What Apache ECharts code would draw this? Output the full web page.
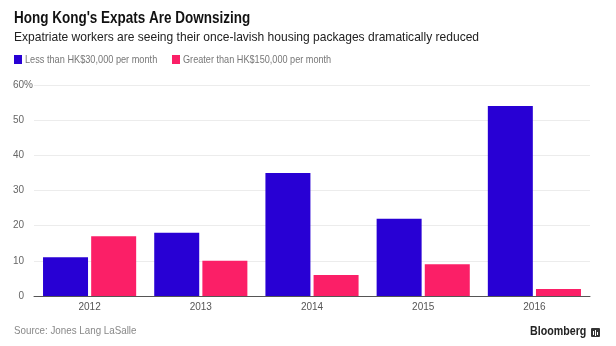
<!DOCTYPE html>
<html><head><meta charset="utf-8">
<script src="https://cdn.jsdelivr.net/npm/echarts@6/dist/echarts.min.js"></script>
<style>html,body{margin:0;padding:0;background:#fff}#c{width:616px;height:346px}</style>
</head><body><div id="c"></div>
<script>
const categories = ['2012', '2013', '2014', '2015', '2016'];
const lessThan30k = [11, 18, 35, 22, 54];
const greaterThan150k = [17, 10, 6, 9, 2];
const seriesNames = ['Less than HK$30,000 per month', 'Greater than HK$150,000 per month'];
const seriesColors = ['#2800d4', '#fb1f67'];

const FF = '"Liberation Sans", Arial, sans-serif';
function txt(text, x, y, font, fill, scaleX) {
  return { type: 'text', x: x, y: y, scaleX: scaleX, silent: true,
    style: { text: text, font: font, fill: fill, verticalAlign: 'middle', align: 'left' } };
}
const chart = echarts.init(document.getElementById('c'));
chart.setOption({
  animation: false,
  textStyle: { fontFamily: FF },
  legend: { show: false, data: seriesNames },
  graphic: [
    txt("Hong Kong's Expats Are Downsizing", 14, 19, 'bold 16px ' + FF, '#111', 0.843),
    txt('Expatriate workers are seeing their once-lavish housing packages dramatically reduced', 14, 37.5, '13px ' + FF, '#222', 0.926),
    { type: 'rect', shape: { x: 14, y: 55, width: 8, height: 9 }, style: { fill: seriesColors[0] } },
    txt(seriesNames[0], 25, 60, '11px ' + FF, '#777', 0.835),
    { type: 'rect', shape: { x: 172, y: 55, width: 8, height: 9 }, style: { fill: seriesColors[1] } },
    txt(seriesNames[1], 183, 60, '11px ' + FF, '#777', 0.83),
    txt('Source: Jones Lang LaSalle', 14, 331, '11px ' + FF, '#888', 0.89),
    txt('Bloomberg', 530, 332, 'bold 12px ' + FF, '#222', 0.89),
    { type: 'rect', shape: { x: 591, y: 328, width: 9, height: 9, r: 1 }, style: { fill: '#333' } },
    { type: 'rect', shape: { x: 593, y: 331, width: 1, height: 4 }, style: { fill: '#fff' } },
    { type: 'rect', shape: { x: 595, y: 330, width: 1, height: 6 }, style: { fill: '#fff' } },
    { type: 'rect', shape: { x: 597, y: 332, width: 1, height: 3 }, style: { fill: '#fff' } }
  ],
  grid: { left: 34, right: 26, top: 85, bottom: 50 },
  xAxis: {
    type: 'category', data: categories,
    axisLine: { lineStyle: { color: '#555' } },
    axisTick: { alignWithLabel: true, length: 4, lineStyle: { color: '#555' } },
    axisLabel: { fontSize: 10, color: '#555', margin: 6 }
  },
  yAxis: {
    type: 'value', min: 0, max: 60, interval: 10,
    axisLine: { show: false }, axisTick: { show: false },
    splitLine: { lineStyle: { color: '#ececec' } },
    axisLabel: { fontSize: 10, color: '#666', margin: 1, align: 'right',
      formatter: v => v === 60 ? '60{p|%}' : v + '{q| }',
      rich: { p: { fontSize: 10, color: '#666' }, q: { fontSize: 10, width: 9 } } }
  },
  series: [
    { name: seriesNames[0], type: 'bar', data: lessThan30k, barWidth: 45, barGap: '7%',
      itemStyle: { color: seriesColors[0] } },
    { name: seriesNames[1], type: 'bar', data: greaterThan150k, barWidth: 45,
      itemStyle: { color: seriesColors[1] } }
  ]
});
</script></body></html>
